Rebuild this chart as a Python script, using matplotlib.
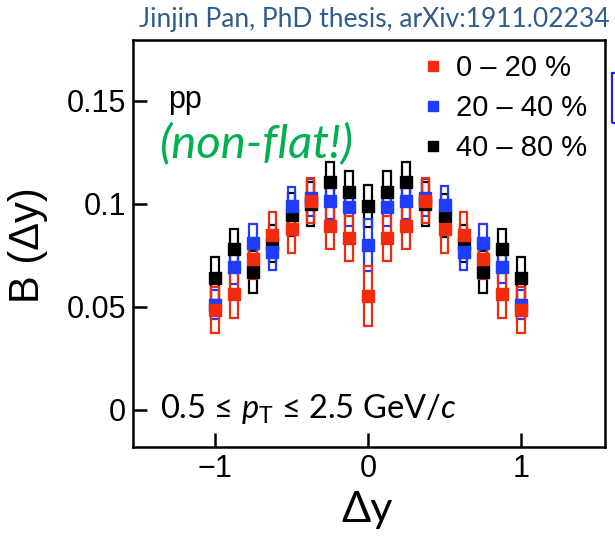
import matplotlib
matplotlib.use("Agg")
import matplotlib.pyplot as plt
from matplotlib.patches import Rectangle
from matplotlib.lines import Line2D

plt.rcParams["font.family"] = ["Liberation Sans", "DejaVu Sans"]
plt.rcParams["mathtext.fontset"] = "custom"
plt.rcParams["mathtext.rm"] = "Lato"
plt.rcParams["mathtext.it"] = "Lato:italic"

# Rapidity separation bins
dy = [-1.0, -0.875, -0.75, -0.625, -0.5, -0.375, -0.25, -0.125, 0.0,
      0.125, 0.25, 0.375, 0.5, 0.625, 0.75, 0.875, 1.0]

# Balance function B(dy) per centrality class, with systematic uncertainties
b_0_20 = [0.0485, 0.0562, 0.0735, 0.0850, 0.0879, 0.1016, 0.0893, 0.0833, 0.0553,
          0.0833, 0.0893, 0.1016, 0.0879, 0.0850, 0.0735, 0.0563, 0.0485]
sys_0_20 = [0.0110, 0.0115, 0.0100, 0.0110, 0.0115, 0.0110, 0.0110, 0.0110, 0.0145,
            0.0110, 0.0110, 0.0110, 0.0115, 0.0110, 0.0100, 0.0115, 0.0110]

b_20_40 = [0.0510, 0.0693, 0.0812, 0.0769, 0.0990, 0.1030, 0.1016, 0.0984, 0.0800,
           0.0984, 0.1016, 0.1030, 0.0995, 0.0769, 0.0812, 0.0696, 0.0510]
sys_20_40 = [0.0070, 0.0080, 0.0090, 0.0090, 0.0094, 0.0090, 0.0090, 0.0090, 0.0125,
             0.0090, 0.0090, 0.0090, 0.0094, 0.0090, 0.0090, 0.0080, 0.0070]

b_40_80 = [0.0639, 0.0780, 0.0672, 0.0806, 0.0947, 0.1000, 0.1108, 0.1060, 0.0990,
           0.1060, 0.1108, 0.1000, 0.0943, 0.0806, 0.0672, 0.0780, 0.0639]
sys_40_80 = [0.0105, 0.0097, 0.0102, 0.0090, 0.0105, 0.0105, 0.0097, 0.0100, 0.0102,
             0.0100, 0.0097, 0.0105, 0.0105, 0.0090, 0.0102, 0.0097, 0.0105]

labels = ["0 – 20 %", "20 – 40 %", "40 – 80 %"]
colors = ["#f42a0c", "#1f3dff", "#000000"]

fig = plt.figure(figsize=(6.15, 5.4), dpi=100)
ax = fig.add_axes([133 / 615, 93 / 540, 472 / 615, 407 / 540])

series = [(b_0_20, sys_0_20), (b_20_40, sys_20_40), (b_40_80, sys_40_80)]

# systematic boxes: black, blue, red
box_hw = 0.025
for idx in [2, 1, 0]:
    vals, syst = series[idx]
    for x, v, s in zip(dy, vals, syst):
        ax.add_patch(Rectangle((x - box_hw, v - s), 2 * box_hw, 2 * s,
                               fill=False, ec=colors[idx], lw=1.6, zorder=2))

# central values: black underneath, red on top
for idx in [2, 1, 0]:
    vals, _ = series[idx]
    ax.plot(dy, vals, "s", ms=8.5, color=colors[idx], mec=colors[idx],
            ls="none", zorder=3 + (2 - idx))

ax.set_xlim(-1.536, 1.549)
ax.set_ylim(-0.018, 0.1796)
ax.set_xticks([-1, 0, 1])
ax.set_xticklabels(["−1", "0", "1"])
ax.set_yticks([0, 0.05, 0.1, 0.15])
ax.set_yticklabels(["0", "0.05", "0.1", "0.15"])
ax.tick_params(direction="in", length=10, width=1.8, labelsize=22,
               top=False, right=False, pad=5)
for sp in ax.spines.values():
    sp.set_linewidth(1.8)

handles = [Line2D([], [], marker="s", ls="none", ms=7.5, color=c, mec=c) for c in colors]
ax.legend(handles, labels, loc="upper left", bbox_to_anchor=(422 / 615, 1 - 54 / 540),
          bbox_transform=fig.transFigure, frameon=False, fontsize=21,
          handlelength=0.75, handletextpad=0.4, labelspacing=0.42, borderpad=0,
          borderaxespad=0)

ax.text(0.074, 0.853, "pp", transform=ax.transAxes, fontsize=22, va="center", ha="left")
ax.text(0.057, 0.745, "(non-flat!)", transform=ax.transAxes, fontsize=34,
        style="italic", color="#00b050", va="center", ha="left",
        family=["Lato", "DejaVu Sans"])
ax.text(0.057, 0.093, "0.5 ≤ $p_\\mathrm{T}$ ≤ 2.5 GeV/$c$", transform=ax.transAxes,
        fontsize=23.5, va="center", ha="left", family=["Lato", "DejaVu Sans"])

fig.text(28 / 615, 1 - 245 / 540, "B (Δy)", rotation=90, ha="center", va="center",
         fontsize=30)
fig.text(367 / 615, 1 - 510 / 540, "Δy", ha="center", va="center", fontsize=31,
         family=["Lato", "DejaVu Sans"])
fig.text(610 / 615, 1 - 19 / 540, "Jinjin Pan, PhD thesis, arXiv:1911.02234",
         ha="right", va="center", fontsize=19, color="#2f5c8f",
         family=["Lato", "DejaVu Sans"])

fig.patches.append(Rectangle((612 / 615, 1 - 123 / 540), 10 / 615, 50 / 540,
                             transform=fig.transFigure, fill=False, ec="#1f1fff",
                             lw=1.6))

fig.savefig("out.png", dpi=100)
